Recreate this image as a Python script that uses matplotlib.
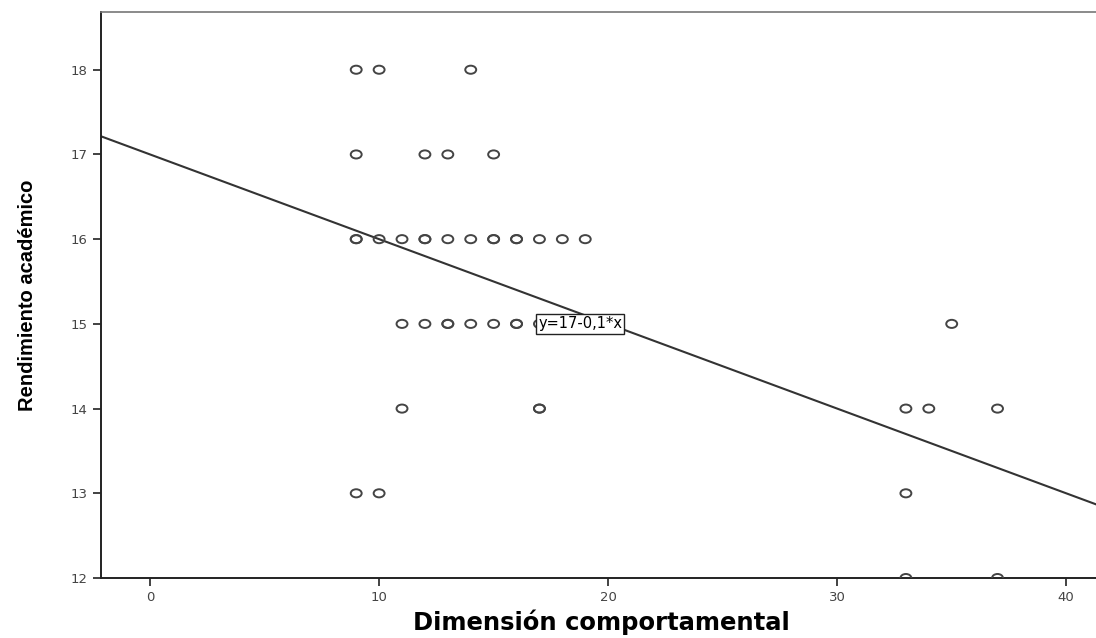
import numpy as np
import matplotlib.pyplot as plt
from matplotlib.path import Path
from matplotlib.transforms import Affine2D

# data (repeated pairs show as darker circles)
x_vals = [9, 10, 14,
          9, 12, 13, 15,
          9, 9, 10, 11, 12, 12, 13, 14, 15, 15, 16, 16, 17, 18, 19,
          11, 12, 13, 13, 14, 15, 16, 16, 17, 35,
          11, 17, 17, 33, 34, 37,
          9, 10, 33,
          33, 37]
y_vals = [18, 18, 18,
          17, 17, 17, 17,
          16, 16, 16, 16, 16, 16, 16, 16, 16, 16, 16, 16, 16, 16, 16,
          15, 15, 15, 15, 15, 15, 15, 15, 15, 15,
          14, 14, 14, 14, 14, 14,
          13, 13, 13,
          12, 12]

intercept = 17.0
slope = -0.1
fit_label = "y=17-0,1*x"

x_ticks = [0, 10, 20, 30, 40]
y_ticks = [12, 13, 14, 15, 16, 17, 18]

fig = plt.figure(figsize=(10.96, 6.38), dpi=100)
ax = fig.add_axes([0.092, 0.094, 0.908, 0.887])

# slightly wide open circle, like the stretched SPSS marker
ell = Path.unit_circle().transformed(Affine2D().scale(1.35, 1.0))
ax.scatter(x_vals, y_vals, marker=ell, s=62, facecolors='none',
           edgecolors='#444444', linewidths=1.4, zorder=3)

xlim = (-2.15, 41.3)
xs = np.array(xlim)
ax.plot(xs, intercept + slope * xs, color='#333333', lw=1.5, zorder=2)

ax.text(16.95, 15.0, fit_label, fontsize=10.5, family='DejaVu Sans',
        va='center', ha='left', zorder=4,
        bbox=dict(boxstyle='square,pad=0.15', fc='white', ec='#222222', lw=1))

ax.set_xlim(*xlim)
ax.set_ylim(12, 18.68)
ax.set_xticks(x_ticks)
ax.set_yticks(y_ticks)
ax.tick_params(direction='out', length=6, width=1.2, colors='#222222',
               labelsize=9.5, labelcolor='#444444')
ax.spines['right'].set_visible(False)
for s in ['left', 'bottom']:
    ax.spines[s].set_linewidth(1.4)
    ax.spines[s].set_color('#222222')
ax.spines['top'].set_color('#777777')
ax.spines['top'].set_linewidth(1.2)

ax.set_xlabel('Dimensión comportamental', fontsize=17.5, fontweight='bold',
              family='DejaVu Sans')
ax.set_ylabel('Rendimiento académico', fontsize=14.5, fontweight='bold',
              family='Liberation Sans')
ax.xaxis.set_label_coords(0.5025, -0.056)
ax.yaxis.set_label_coords(-0.064, 0.5)

fig.savefig('out.png', dpi=100)
